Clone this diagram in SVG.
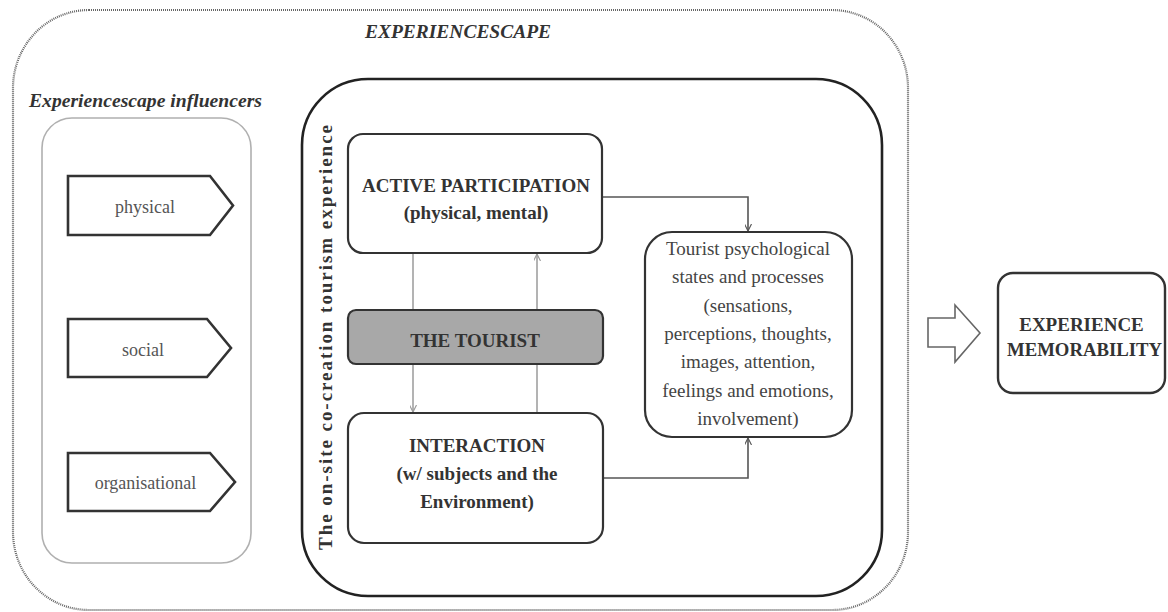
<svg xmlns="http://www.w3.org/2000/svg" width="1168" height="612" viewBox="0 0 1168 612">
<style>
.bg{fill:#ffffff}
.outer{fill:none;stroke:#666;stroke-width:2.2;stroke-dasharray:1 1}
.infl{fill:none;stroke:#b0b0b0;stroke-width:1.6}
.inner{fill:none;stroke:#222;stroke-width:2.6}
.box{fill:#fff;stroke:#333;stroke-width:2.2}
.tourist{fill:#a8a8a8;stroke:#333;stroke-width:2.2}
.pent{fill:#fff;stroke:#333;stroke-width:2.6}
.hd{font-family:"Liberation Serif",serif;font-weight:bold;font-style:italic;fill:#333}
.bt{font-family:"Liberation Serif",serif;font-weight:bold;fill:#333;font-size:19px;text-anchor:middle}
.rt{font-family:"Liberation Serif",serif;fill:#555;font-size:18px;text-anchor:middle}
.pt{font-family:"Liberation Serif",serif;fill:#444;font-size:19px;text-anchor:middle}
.conn{fill:none;stroke:#555;stroke-width:1.6}
.gconn{fill:none;stroke:#a0a0a0;stroke-width:1.6}
.blk{fill:#fff;stroke:#666;stroke-width:1.6}
</style>
<defs>
<marker id="ah" viewBox="0 0 10 10" refX="10" refY="5" markerWidth="7" markerHeight="7" markerUnits="userSpaceOnUse" orient="auto">
<path d="M0,0 L10,5 L0,10" fill="none" stroke="#555" stroke-width="1.6"/>
</marker>
<marker id="ahg" viewBox="0 0 10 10" refX="10" refY="5" markerWidth="7" markerHeight="7" markerUnits="userSpaceOnUse" orient="auto">
<path d="M0,0 L10,5 L0,10" fill="none" stroke="#999" stroke-width="1.6"/>
</marker>
</defs>
<rect class="bg" x="0" y="0" width="1168" height="612"/>

<g id="experiencescape">
<rect class="outer" x="13" y="10" width="895" height="600" rx="76" ry="78"/>
<text class="hd" x="365" y="38" font-size="19" textLength="186" lengthAdjust="spacingAndGlyphs">EXPERIENCESCAPE</text>
</g>

<g id="influencers">
<text class="hd" x="29" y="107" font-size="18" textLength="233" lengthAdjust="spacingAndGlyphs">Experiencescape influencers</text>
<rect class="infl" x="42" y="118" width="209" height="445" rx="30" ry="30"/>
</g>

<g id="physical">
<path class="pent" d="M68,176 H210 L233,205.5 L210,235 H68 Z"/>
<text class="rt" x="145" y="213">physical</text>
</g>
<g id="social">
<path class="pent" d="M68,319 H207 L231,348 L207,377 H68 Z"/>
<text class="rt" x="143" y="356">social</text>
</g>
<g id="organisational">
<path class="pent" d="M68,453 H210 L235,482 L210,511 H68 Z"/>
<text class="rt" x="145.5" y="489">organisational</text>
</g>

<g id="onsite">
<rect class="inner" x="302" y="79" width="580" height="517" rx="66" ry="66"/>
<text class="bt" transform="translate(332,337.5) rotate(-90)" x="0" y="0" font-size="16.5" textLength="425">The on-site co-creation tourism experience</text>
</g>

<g id="connectors">
<line class="gconn" x1="413" y1="253" x2="413" y2="412" marker-end="url(#ahg)"/>
<line class="gconn" x1="537" y1="413" x2="537" y2="254" marker-end="url(#ahg)"/>
<path class="conn" d="M602,197 H748 V231" marker-end="url(#ah)"/>
<path class="conn" d="M603,478 H748 V438" marker-end="url(#ah)"/>
</g>

<g id="active">
<rect class="box" x="348" y="134" width="254" height="119" rx="15" ry="15"/>
<text class="bt" x="476" y="192">ACTIVE PARTICIPATION</text>
<text class="bt" x="476" y="219">(physical, mental)</text>
</g>

<g id="tourist">
<rect class="tourist" x="348" y="310" width="255" height="54" rx="8" ry="8"/>
<text class="bt" x="475" y="347">THE TOURIST</text>
</g>

<g id="interaction">
<rect class="box" x="348" y="413" width="255" height="130" rx="16" ry="16"/>
<text class="bt" x="477" y="452">INTERACTION</text>
<text class="bt" x="477" y="480">(w/ subjects and the</text>
<text class="bt" x="477" y="508">Environment)</text>
</g>

<g id="psych">
<rect class="box" x="645" y="232" width="207" height="205" rx="27" ry="27"/>
<text class="pt" x="748" y="255">Tourist psychological</text>
<text class="pt" x="748" y="283">states and processes</text>
<text class="pt" x="748" y="312">(sensations,</text>
<text class="pt" x="748" y="340">perceptions, thoughts,</text>
<text class="pt" x="748" y="368">images, attention,</text>
<text class="pt" x="748" y="397">feelings and emotions,</text>
<text class="pt" x="748" y="425">involvement)</text>
</g>

<g id="bigarrow">
<path class="blk" d="M928,318 H955 V305 L980,333 L955,362 V347 H928 Z"/>
</g>

<g id="memorability">
<rect class="box" x="998" y="273" width="167" height="120" rx="15" ry="15" style="stroke-width:2.4"/>
<text class="bt" x="1081.5" y="331" font-size="18">EXPERIENCE</text>
<text class="bt" x="1084.5" y="356" font-size="18" textLength="155" lengthAdjust="spacingAndGlyphs">MEMORABILITY</text>
</g>
</svg>
